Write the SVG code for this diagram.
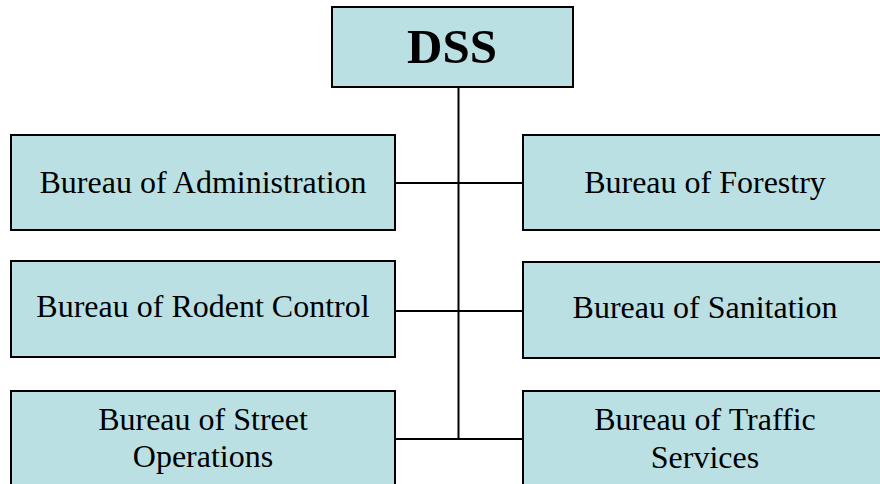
<svg xmlns="http://www.w3.org/2000/svg" width="880" height="484" viewBox="0 0 880 484">
<style>
.box{fill:#BAE0E3;stroke:#000;stroke-width:2}
.t{font-family:"Liberation Serif","Times New Roman",serif;font-size:32px;fill:#000;text-anchor:middle}
.h{font-family:"Liberation Serif","Times New Roman",serif;font-size:49px;font-weight:bold;fill:#000;text-anchor:middle}
.c{stroke:#000;stroke-width:2;fill:none}
</style>
<rect width="880" height="484" fill="#fff"/>
<g id="connectors">
<line class="c" x1="458.5" y1="87" x2="458.5" y2="439"/>
<line class="c" x1="395" y1="183" x2="523" y2="183"/>
<line class="c" x1="395" y1="311" x2="523" y2="311"/>
<line class="c" x1="395" y1="439" x2="523" y2="439"/>
</g>
<g id="dss">
<rect class="box" x="332" y="7" width="241" height="80"/>
<text class="h" x="452" y="63">DSS</text>
</g>
<g id="admin">
<rect class="box" x="11" y="135" width="384" height="95"/>
<text class="t" x="203" y="193">Bureau of Administration</text>
</g>
<g id="forestry">
<rect class="box" x="523" y="135" width="364" height="95"/>
<text class="t" x="705" y="193">Bureau of Forestry</text>
</g>
<g id="rodent">
<rect class="box" x="11" y="261" width="384" height="96"/>
<text class="t" x="203" y="317">Bureau of Rodent Control</text>
</g>
<g id="sanitation">
<rect class="box" x="523" y="262" width="364" height="96"/>
<text class="t" x="705" y="318">Bureau of Sanitation</text>
</g>
<g id="street">
<rect class="box" x="11" y="391" width="384" height="110"/>
<text class="t" x="203" y="430">Bureau of Street</text>
<text class="t" x="203" y="467">Operations</text>
</g>
<g id="traffic">
<rect class="box" x="523" y="391" width="364" height="110"/>
<text class="t" x="705" y="430">Bureau of Traffic</text>
<text class="t" x="705" y="468">Services</text>
</g>
</svg>
